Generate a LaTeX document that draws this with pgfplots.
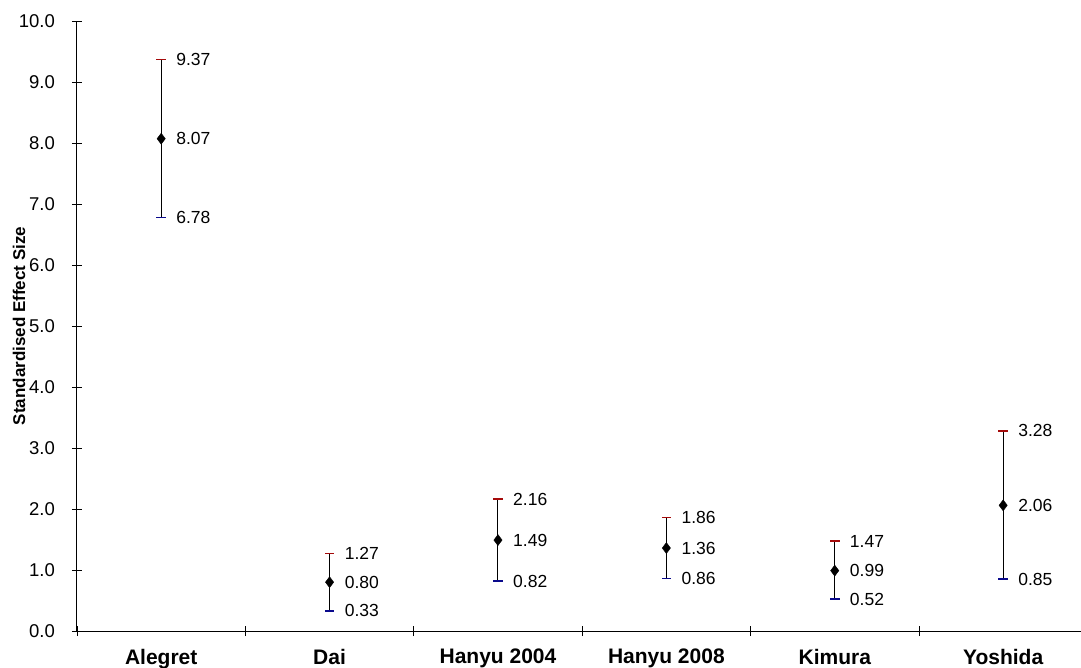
\documentclass[border=0pt]{standalone}
\usepackage{fontspec}
\setmainfont{Liberation Sans}
\usepackage{pgfplots}
\pgfplotsset{compat=1.18}
\usepackage{pgfplotstable}
\pgfplotsset{/pgf/number format/assume math mode=true}

\definecolor{capred}{RGB}{165,10,10}
\definecolor{capblue}{RGB}{10,10,140}

\pgfplotstableread{
x up mean low
0 9.37 8.07 6.78
1 1.27 0.80 0.33
2 2.16 1.49 0.82
3 1.86 1.36 0.86
4 1.47 0.99 0.52
5 3.28 2.06 0.85
}\data

\newcommand{\lblfont}{\fontsize{17.5bp}{20bp}\selectfont}
\newcommand{\tckfont}{\fontsize{18.5bp}{21bp}\selectfont}

\begin{document}
\begin{tikzpicture}
\useasboundingbox (-77bp,-37bp) rectangle (1004bp,631bp);
\begin{axis}[
  at={(0,0)}, anchor=south west,
  scale only axis, width=1010.4bp, height=610bp,
  xmin=-0.5, xmax=5.5, ymin=0, ymax=10,
  axis x line*=bottom, axis y line*=left,
  axis line style={-, black, line width=1bp},
  ytick={0,1,...,10},
  yticklabel style={font=\tckfont, anchor=east, inner sep=0pt, xshift=-17bp,
     /pgf/number format/.cd, fixed, fixed zerofill, precision=1},
  xtick={-0.5,0.5,1.5,2.5,3.5,4.5,5.5},
  xticklabels={},
  extra x ticks={0,1,2,3,4,5},
  extra x tick labels={Alegret,Dai,Hanyu 2004,Hanyu 2008,Kimura,Yoshida},
  extra x tick style={major tick length=0pt,
     tick label style={font=\bfseries\fontsize{21bp}{24bp}\selectfont, anchor=north, inner sep=0pt, yshift=-18bp}},
  tick align=center, major tick length=10bp,
  tick style={black, line width=0.8bp},
  ylabel={Standardised Effect Size},
  every axis y label/.style={at={(axis description cs:-0.0574,0.5)}, rotate=90, anchor=center, font=\bfseries\fontsize{17bp}{20bp}\selectfont},
  clip=false,
  point meta=y,
  nodes near coords={\pgfmathprintnumber[fixed,fixed zerofill,precision=2]{\pgfplotspointmeta}},
  nodes near coords style={anchor=west, inner sep=0pt, xshift=15bp, font=\lblfont, text=black},
]
\addplot[draw=none, mark=none,
  error bars/.cd, y dir=both, y explicit, error mark=none,
  error bar style={black, line width=1bp}]
  table[x=x, y=mean,
        y error plus expr=\thisrow{up}-\thisrow{mean},
        y error minus expr=\thisrow{mean}-\thisrow{low}] {\data};
\addplot[draw=none, mark=none,
  error bars/.cd, x dir=both, x fixed=0.0285, error mark=none,
  error bar style={capred, line width=1.8bp}]
  table[x=x, y=up] {\data};
\addplot[draw=none, mark=none,
  error bars/.cd, x dir=both, x fixed=0.0285, error mark=none,
  error bar style={capblue, line width=1.8bp}]
  table[x=x, y=low] {\data};
\addplot[draw=none, nodes near coords=, mark=diamond*, mark size=5.5bp, black]
  table[x=x, y=mean] {\data};
\end{axis}
\end{tikzpicture}
\end{document}
